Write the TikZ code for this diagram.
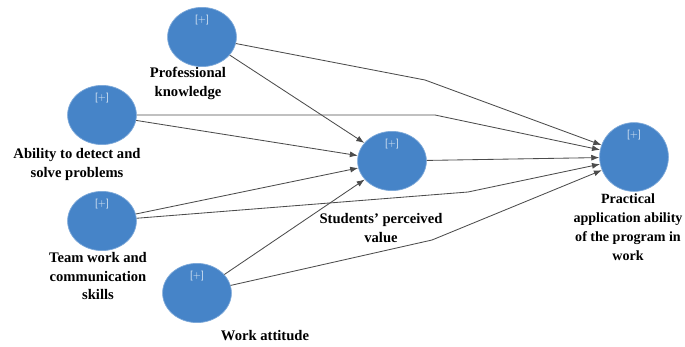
\documentclass[tikz,border=0pt]{standalone}
\usepackage{fontspec}
\setmainfont{Liberation Serif}
\usetikzlibrary{shapes.geometric, arrows.meta}

\definecolor{nutxanh}{RGB}{70,132,200}
\newcommand{\dautag}{[+]}

\begin{document}
\begin{tikzpicture}[>={Latex[length=2mm, width=1.5mm]},
    bien/.style={ellipse, fill=nutxanh, draw=nutxanh!70!white, line width=0.5pt,
        minimum width=1.72cm, minimum height=1.48cm, inner sep=0pt,
        label={[tagchu]90:\dautag}},
    tagchu/.style={anchor=north, yshift=-0.2cm, inner sep=0pt,
        text=white!80!nutxanh, font=\sffamily\fontsize{7}{7}\selectfont},
    chu/.style={font=\bfseries\fontsize{10.4}{13.5}\selectfont, align=center},
    mui/.style={->, draw=black!70, line width=0.6pt}]

    % Khung hình
    \useasboundingbox (0,0) rectangle (17.125,8.65);

    % ==================== 1. CÁC BIẾN (HÌNH ELIP) ====================
    \node[bien] (prof)  at (5.05, 7.725) {};
    \node[bien] (abil)  at (2.55, 5.775) {};
    \node[bien] (team)  at (2.55, 3.125) {};
    \node[bien] (work)  at (4.925, 1.325) {};
    \node[bien] (value) at (9.8, 4.625) {};
    \node[bien, minimum height=1.72cm] (prac) at (15.85, 4.725) {};

    % ==================== 2. NHÃN CÁC BIẾN ====================
    \node[chu] (prof-t)  at (4.7, 6.575)   {Professional\\knowledge};
    \node[chu] (abil-t)  at (1.925, 4.55)  {Ability to detect and\\solve problems};
    \node[chu] (team-t)  at (2.45, 1.75)   {Team work and\\communication\\skills};
    \node[chu] (work-t)  at (6.625, 0.25)  {Work attitude};
    \node[chu] (value-t) at (9.525, 2.95)  {Students’ perceived\\value};
    \node[chu, font=\bfseries\fontsize{10}{13.5}\selectfont] (prac-t) at (15.7, 2.975)
        {Practical\\application ability\\of the program in\\work};

    % ==================== 3. CÁC MŨI TÊN ====================
    % Điểm gấp của các đường đi thẳng tới biến phụ thuộc
    \coordinate (g1) at (10.625, 6.65);
    \coordinate (g2) at (10.875, 5.775);
    \coordinate (g3) at (11.7, 3.85);
    \coordinate (g4) at (10.8, 2.65);

    % Tới giá trị cảm nhận
    \draw[mui] (prof) -- (value);
    \draw[mui] (abil) -- (value);
    \draw[mui] (team) -- (value);
    \draw[mui] (work) -- (value);

    % Tới khả năng ứng dụng thực tế
    \draw[mui] (value) -- (prac);
    \draw[mui] (prof) -- (g1) -- (prac);
    \draw[mui] (abil) -- (g2) -- (prac);
    \draw[mui] (team) -- (g3) -- (prac);
    \draw[mui] (work) -- (g4) -- (prac);

\end{tikzpicture}
\end{document}
